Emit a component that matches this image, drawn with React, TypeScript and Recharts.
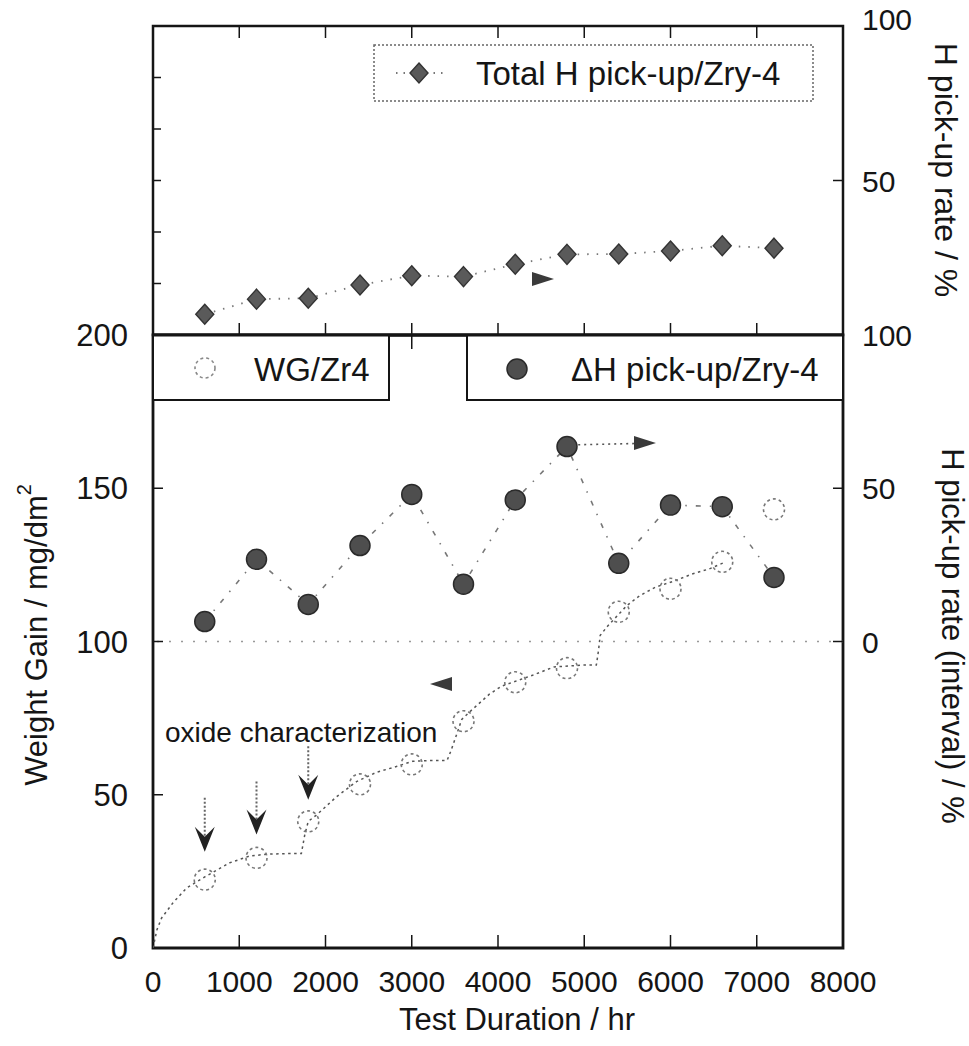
import React from 'react';
import {
  ComposedChart,
  Line,
  XAxis,
  YAxis,
  ReferenceArea,
  ReferenceLine,
  ReferenceDot,
} from 'recharts';

// ---------------- data ----------------
const testHours = [600, 1200, 1800, 2400, 3000, 3600, 4200, 4800, 5400, 6000, 6600, 7200];
const totalHPickup = [6.7, 11.6, 11.9, 16.2, 19.2, 18.9, 22.9, 26.1, 26.2, 27.2, 28.9, 28.1];
const deltaHPickup = [6.5, 26.8, 12.1, 31.3, 48.0, 18.7, 46.2, 63.6, 25.5, 44.5, 44.0, 20.9];
const weightGain = [22.3, 29.4, 41.3, 53.4, 59.9, 74.0, 86.7, 91.3, 109.7, 117.2, 126.0, 143.1];

// weight gain trend line
const wgFitHours = [0, 45, 100, 230, 390, 600, 890, 1120, 1320, 1550, 1720, 1760, 1800, 1900, 2130, 2360, 2590, 2820, 3010, 3240, 3410, 3450, 3500, 3580, 3670, 3900, 4040, 4400, 4650, 4980, 5140, 5165, 5185, 5270, 5490, 5640, 5830, 6020, 6250, 6450, 6640];
const wgFitValues = [0, 5.9, 9.8, 14.7, 19.6, 23.2, 27.8, 30.0, 30.6, 30.8, 30.8, 37.0, 41.3, 43.5, 49.4, 54.3, 57.3, 59.2, 60.9, 61.2, 61.2, 64.0, 68.0, 74.6, 77.0, 82.8, 85.4, 89.0, 91.7, 92.3, 92.3, 97.0, 102.0, 105.0, 111.6, 114.9, 117.8, 119.5, 122.0, 123.7, 126.0];

const xTicks = [0, 1000, 2000, 3000, 4000, 5000, 6000, 7000, 8000];
const wgTicks = [0, 50, 100, 150, 200];
const intervalTicks = [0, 50, 100];
const totalTicks = [50, 100];
const totalMinorTicks = [100 / 6, 200 / 6, 300 / 6, 400 / 6, 500 / 6];

// oxide characterization arrows: hour, shaft top, arrow tip (weight gain units)
const oxideArrowHours = [600, 1200, 1800];
const oxideArrowTop = [49.0, 54.3, 65.8];
const oxideArrowTip = [31.4, 37.0, 48.4];

const totalData = testHours.map((t, i) => ({ t, v: totalHPickup[i] }));
const deltaData = testHours.map((t, i) => ({ t, v: deltaHPickup[i] }));
const wgData = testHours.map((t, i) => ({ t, v: weightGain[i] }));
const wgFitData = wgFitHours.map((t, i) => ({ t, v: wgFitValues[i] }));

// ---------------- layout ----------------
const W = 969;
const H = 1046;
const PL = 153;
const PR = 843;
const T1 = 26;
const B1 = 335;
const T2 = 335;
const B2 = 948;
const FONT = "'Liberation Sans', Arial, Helvetica, sans-serif";
const INK = '#151515';

const diamond = (p: any) => {
  const { cx, cy, index } = p;
  if (cx == null || cy == null) return <g key={`d${index}`} />;
  return (
    <path
      key={`d${index}`}
      d={`M${cx},${cy - 10} L${cx + 9},${cy} L${cx},${cy + 10} L${cx - 9},${cy} Z`}
      fill="#5a5a5a"
      stroke="#333"
      strokeWidth={1.4}
    />
  );
};

const filledCircle = (p: any) => {
  const { cx, cy, index } = p;
  if (cx == null || cy == null) return <g key={`f${index}`} />;
  return <circle key={`f${index}`} cx={cx} cy={cy} r={10} fill="#4e4e4e" stroke="#2a2a2a" strokeWidth={1.5} />;
};

const openCircle = (p: any) => {
  const { cx, cy, index } = p;
  if (cx == null || cy == null) return <g key={`o${index}`} />;
  return (
    <circle key={`o${index}`} cx={cx} cy={cy} r={10.5} fill="none" stroke="#777" strokeWidth={1.6} strokeDasharray="3 3" />
  );
};

const rightHead = (p: any) => {
  const { cx, cy } = p;
  return <path d={`M${cx - 11},${cy - 7} L${cx + 11},${cy} L${cx - 11},${cy + 7} Z`} fill="#3a3a3a" />;
};
const leftHead = (p: any) => {
  const { cx, cy } = p;
  return <path d={`M${cx + 11},${cy - 7} L${cx - 11},${cy} L${cx + 11},${cy + 7} Z`} fill="#3a3a3a" />;
};
const downHead = (p: any) => {
  const { cx, cy } = p;
  return <path d={`M${cx},${cy} L${cx - 10},${cy - 25} L${cx},${cy - 15} L${cx + 10},${cy - 25} Z`} fill="#222" />;
};

// ---------- ticks ----------
const TopXTick = (p: any) => {
  const { x, payload } = p;
  if (payload.value === 0 || payload.value === 8000) return <g />;
  return (
    <g>
      <line x1={x} x2={x} y1={T1} y2={T1 + 12} stroke={INK} strokeWidth={1.5} />
      <line x1={x} x2={x} y1={B1} y2={B1 - 12} stroke={INK} strokeWidth={1.5} />
    </g>
  );
};

const TopLeftTick = (p: any) => {
  const { y } = p;
  return <line x1={PL} x2={PL + 8} y1={y} y2={y} stroke={INK} strokeWidth={1.5} />;
};

const TopRightTick = (p: any) => {
  const { y, payload } = p;
  return (
    <g>
      {payload.value === 50 && <line x1={PR - 10} x2={PR} y1={y} y2={y} stroke={INK} strokeWidth={1.5} />}
      <text x={862} y={y + 11 - (payload.value === 100 ? 7 : 0)} fontFamily={FONT} fontSize={30} fill={INK} textAnchor="start">
        {payload.value}
      </text>
    </g>
  );
};

const BottomXTick = (p: any) => {
  const { x, payload } = p;
  const inner = payload.value !== 0 && payload.value !== 8000;
  return (
    <g>
      {inner && <line x1={x} x2={x} y1={B2} y2={B2 - 13} stroke={INK} strokeWidth={1.5} />}
      {inner && <line x1={x} x2={x} y1={T2} y2={T2 + 14} stroke={INK} strokeWidth={1.5} />}
      <text x={x} y={992} fontFamily={FONT} fontSize={30} fill={INK} textAnchor="middle">
        {payload.value}
      </text>
    </g>
  );
};

const LowerLeftTick = (p: any) => {
  const { y, payload } = p;
  const inner = payload.value !== 0 && payload.value !== 200;
  return (
    <g>
      {inner && <line x1={PL} x2={PL + 10} y1={y} y2={y} stroke={INK} strokeWidth={1.5} />}
      <text x={128} y={y + 11} fontFamily={FONT} fontSize={31} fill={INK} textAnchor="end">
        {payload.value}
      </text>
    </g>
  );
};

const LowerRightTick = (p: any) => {
  const { y, payload } = p;
  return (
    <g>
      {payload.value !== 100 && <line x1={PR - 10} x2={PR} y1={y} y2={y} stroke={INK} strokeWidth={1.5} />}
      <text x={862} y={y + 11} fontFamily={FONT} fontSize={30} fill={INK} textAnchor="start">
        {payload.value}
      </text>
    </g>
  );
};

export default function App() {
  return (
    <div style={{ position: 'absolute', left: 0, top: 0, width: W, height: H, background: '#fff', fontFamily: FONT }}>
      {/* upper panel: total H pick-up rate */}
      <div style={{ position: 'absolute', left: 0, top: 0 }}>
        <ComposedChart width={W} height={H} margin={{ top: T1, right: W - PR - 10, bottom: H - B1 - 10, left: PL - 10 }}>
          <XAxis xAxisId="x" type="number" dataKey="t" domain={[0, 8000]} ticks={xTicks} interval={0} height={10} axisLine={false} tickLine={false} tick={TopXTick} allowDataOverflow />
          <YAxis yAxisId="l" orientation="left" type="number" domain={[0, 100]} ticks={totalMinorTicks} interval={0} width={10} axisLine={false} tickLine={false} tick={TopLeftTick} allowDataOverflow />
          <YAxis yAxisId="r" orientation="right" type="number" domain={[0, 100]} ticks={totalTicks} interval={0} width={10} axisLine={false} tickLine={false} tick={TopRightTick} allowDataOverflow />
          <ReferenceArea xAxisId="x" yAxisId="r" x1={0} x2={8000} y1={0} y2={100} fill="none" stroke={INK} strokeWidth={2.5} />
          <Line xAxisId="x" yAxisId="r" data={totalData} dataKey="v" type="linear" stroke="#777" strokeWidth={1.8} strokeDasharray="1.5 8" dot={diamond} activeDot={false} isAnimationActive={false} />
          <ReferenceDot xAxisId="x" yAxisId="r" x={4522} y={18.1} r={1} shape={rightHead} />
        </ComposedChart>
      </div>

      {/* lower panel: weight gain and interval H pick-up */}
      <div style={{ position: 'absolute', left: 0, top: 0 }}>
        <ComposedChart width={W} height={H} margin={{ top: T2, right: W - PR - 10, bottom: H - B2 - 10, left: PL - 10 }}>
          <XAxis xAxisId="x" type="number" dataKey="t" domain={[0, 8000]} ticks={xTicks} interval={0} height={10} axisLine={false} tickLine={false} tick={BottomXTick} allowDataOverflow />
          <YAxis yAxisId="l" orientation="left" type="number" domain={[0, 200]} ticks={wgTicks} interval={0} width={10} axisLine={false} tickLine={false} tick={LowerLeftTick} allowDataOverflow />
          <YAxis yAxisId="r" orientation="right" type="number" domain={[-100, 100]} ticks={intervalTicks} interval={0} width={10} axisLine={false} tickLine={false} tick={LowerRightTick} allowDataOverflow />
          <ReferenceArea xAxisId="x" yAxisId="l" x1={0} x2={8000} y1={0} y2={200} fill="none" stroke={INK} strokeWidth={2.8} />
          <ReferenceLine xAxisId="x" yAxisId="r" y={0} stroke="#999" strokeWidth={1.5} strokeDasharray="2 10" />
          <Line xAxisId="x" yAxisId="l" data={wgFitData} dataKey="v" type="linear" stroke="#555" strokeWidth={1.5} strokeDasharray="2.5 3.5" dot={false} activeDot={false} isAnimationActive={false} />
          <Line xAxisId="x" yAxisId="l" data={wgData} dataKey="v" type="linear" stroke="none" strokeWidth={0} dot={openCircle} activeDot={false} isAnimationActive={false} />
          <Line xAxisId="x" yAxisId="r" data={deltaData} dataKey="v" type="linear" stroke="#777" strokeWidth={1.6} strokeDasharray="5 9 1.5 9" dot={filledCircle} activeDot={false} isAnimationActive={false} />
          <ReferenceLine xAxisId="x" yAxisId="r" segment={[{ x: 4930, y: 64.2 }, { x: 5600, y: 64.6 }]} stroke="#555" strokeWidth={1.6} strokeDasharray="2 4" />
          <ReferenceDot xAxisId="x" yAxisId="r" x={5704} y={64.8} r={1} shape={rightHead} />
          <ReferenceDot xAxisId="x" yAxisId="l" x={3339} y={86.1} r={1} shape={leftHead} />
          {oxideArrowHours.map((h, i) => (
            <ReferenceLine key={`s${i}`} xAxisId="x" yAxisId="l" segment={[{ x: h, y: oxideArrowTop[i] }, { x: h, y: oxideArrowTip[i] + 5 }]} stroke="#666" strokeWidth={2} strokeDasharray="2 2" />
          ))}
          {oxideArrowHours.map((h, i) => (
            <ReferenceDot key={`a${i}`} xAxisId="x" yAxisId="l" x={h} y={oxideArrowTip[i]} r={1} shape={downHead} />
          ))}
        </ComposedChart>
      </div>

      {/* legends, titles, annotation */}
      <svg width={W} height={H} style={{ position: 'absolute', left: 0, top: 0, pointerEvents: 'none' }}>
        <g fontFamily={FONT} fill={INK}>
          {/* top legend */}
          <rect x={374} y={45} width={439} height={56} fill="#fff" stroke="#666" strokeWidth={1.5} strokeDasharray="2 2" />
          <line x1={396} x2={446} y1={73} y2={73} stroke="#777" strokeWidth={1.8} strokeDasharray="1.5 6" />
          <path d="M419,63 L428,73 L419,83 L410,73 Z" fill="#5a5a5a" stroke="#333" strokeWidth={1.4} />
          <text x={476} y={85} fontSize={33}>Total H pick-up/Zry-4</text>

          {/* lower legends */}
          <rect x={PL} y={T2} width={236} height={65} fill="#fff" stroke={INK} strokeWidth={2} />
          <circle cx={205} cy={368} r={10} fill="none" stroke="#888" strokeWidth={1.6} strokeDasharray="3 3" />
          <text x={254} y={381} fontSize={33}>WG/Zr4</text>
          <rect x={467} y={T2} width={PR - 467} height={65} fill="#fff" stroke={INK} strokeWidth={2} />
          <circle cx={517} cy={369} r={10} fill="#4e4e4e" stroke="#2a2a2a" strokeWidth={1.5} />
          <text x={571} y={381} fontSize={33}>ΔH pick-up/Zry-4</text>
          {/* panel separating border */}
          <line x1={PL} x2={PR} y1={T2} y2={T2} stroke={INK} strokeWidth={2.8} />

          {/* annotation */}
          <text x={165} y={742} fontSize={28}>oxide characterization</text>

          {/* axis titles */}
          <text x={517} y={1030} fontSize={31} textAnchor="middle">Test Duration / hr</text>
          <text x={36} y={635} fontSize={31} textAnchor="middle" dominantBaseline="central" transform="rotate(-90 36 635)">
            Weight Gain / mg/dm<tspan dy={-12} fontSize={20}>2</tspan>
          </text>
          <text x={946} y={170} fontSize={32} textAnchor="middle" dominantBaseline="central" transform="rotate(90 946 170)">
            H pick-up rate / %
          </text>
          <text x={952} y={636} fontSize={31} textAnchor="middle" dominantBaseline="central" transform="rotate(90 952 636)">
            H pick-up rate (interval) / %
          </text>
        </g>
      </svg>
    </div>
  );
}
